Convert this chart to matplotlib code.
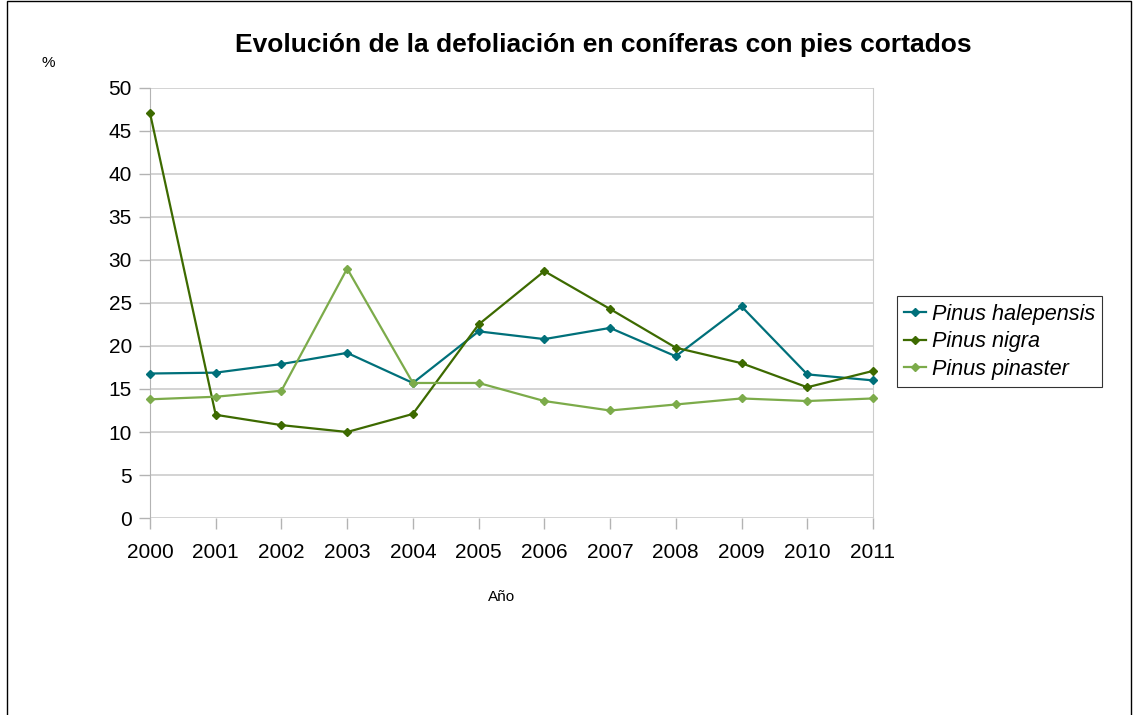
import matplotlib.pyplot as plt
from matplotlib.patches import Rectangle

plt.rcParams['font.family'] = ['Liberation Sans', 'DejaVu Sans']

# Datos
years = [2000, 2001, 2002, 2003, 2004, 2005, 2006, 2007, 2008, 2009, 2010, 2011]
halepensis = [16.8, 16.9, 17.9, 19.2, 15.7, 21.7, 20.8, 22.1, 18.8, 24.6, 16.7, 16.0]
nigra = [47.1, 12.0, 10.8, 10.0, 12.1, 22.5, 28.7, 24.3, 19.8, 18.0, 15.2, 17.1]
pinaster = [13.8, 14.1, 14.8, 29.0, 15.7, 15.7, 13.6, 12.5, 13.2, 13.9, 13.6, 13.9]

series = [('Pinus halepensis', halepensis, '#00707a'),
          ('Pinus nigra', nigra, '#3d6a00'),
          ('Pinus pinaster', pinaster, '#7cab4a')]

fig = plt.figure(figsize=(11.37, 7.15), dpi=100)
ax = fig.add_axes([0.1319, 0.2755, 0.6359, 0.6015])

for name, vals, col in series:
    ax.plot(years, vals, color=col, linewidth=1.6, marker='D', markersize=4.5,
            label=name, clip_on=False, zorder=3)

ax.set_xlim(2000, 2011)
ax.set_ylim(0, 50)
ax.set_xticks(years)
ax.set_yticks(range(0, 51, 5))
ax.tick_params(axis='both', labelsize=15, color='#b3b3b3', length=8, width=1)
ax.tick_params(axis='x', pad=10)
ax.tick_params(axis='y', pad=5)
ax.grid(axis='y', color='#cccccc', linewidth=1.2)
ax.grid(axis='x', visible=False)
ax.set_axisbelow(True)
for s in ['top', 'bottom']:
    ax.spines[s].set_visible(False)
ax.spines['left'].set_color('#b3b3b3')
ax.spines['right'].set_color('#cccccc')

# Leyenda a la derecha
leg = ax.legend(loc='upper left', bbox_to_anchor=(1.033, 0.516),
                prop={'style': 'italic', 'size': 15.6}, frameon=True, fancybox=False,
                handlelength=1.0, handletextpad=0.25, borderpad=0.35, labelspacing=0.3,
                borderaxespad=0)
leg.get_frame().set_edgecolor('black')
leg.get_frame().set_linewidth(0.8)

fig.text(603 / 1137, 1 - 45 / 715, 'Evolución de la defoliación en coníferas con pies cortados',
         ha='center', va='center', fontsize=19, fontweight='bold')
fig.text(48 / 1137, 1 - 63 / 715, '%', ha='center', va='center', fontsize=11)
fig.text(502 / 1137, 1 - 597 / 715, 'Año', ha='center', va='center', fontsize=11)

# Marco exterior
fig.patches.append(Rectangle((7 / 1137, -0.01), 1124 / 1137, 1.0 - 1 / 715 + 0.01,
                             transform=fig.transFigure, fill=False,
                             edgecolor='black', linewidth=1))

fig.savefig('out.png', dpi=100)
